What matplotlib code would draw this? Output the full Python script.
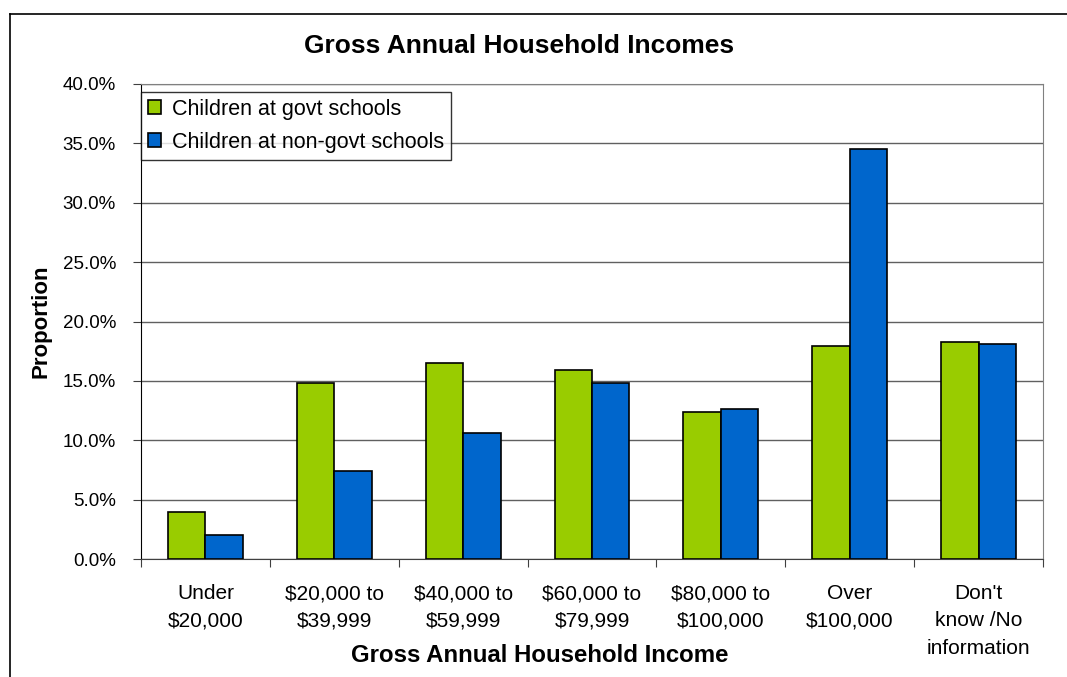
import matplotlib
matplotlib.use("Agg")
import matplotlib.pyplot as plt
from matplotlib.lines import Line2D
from matplotlib.patches import Patch
import numpy as np

plt.rcParams['font.family'] = ['Liberation Sans', 'DejaVu Sans']

categories = ["Under\n$20,000", "$20,000 to\n$39,999", "$40,000 to\n$59,999",
              "$60,000 to\n$79,999", "$80,000 to\n$100,000", "Over\n$100,000",
              "Don't\nknow /No\ninformation"]
govt = [4.0, 14.8, 16.5, 15.9, 12.4, 17.9, 18.3]
non_govt = [2.0, 7.4, 10.6, 14.8, 12.6, 34.5, 18.1]
series_names = ["Children at govt schools", "Children at non-govt schools"]
yticks = [0, 5, 10, 15, 20, 25, 30, 35, 40]

green = "#99CC00"
blue = "#0066CC"

W, H = 1067, 677
fig = plt.figure(figsize=(W / 100, H / 100), dpi=100)
ax = fig.add_axes([141 / W, 1 - 559 / H, (1043 - 141) / W, (559 - 84) / H])

x = np.arange(len(categories))
w = 0.29
ax.bar(x - w / 2, govt, w, color=green, edgecolor="black", linewidth=1.2, zorder=3)
ax.bar(x + w / 2, non_govt, w, color=blue, edgecolor="black", linewidth=1.2, zorder=3)

ax.set_xlim(-0.5, len(categories) - 0.5)
ax.set_ylim(0, 40)
ax.set_yticks(yticks)
ax.set_yticklabels([f"{v:.1f}%" for v in yticks], fontsize=13.5)
ax.yaxis.grid(True, color="#606060", linewidth=1, zorder=0)
ax.set_axisbelow(True)

# category ticks sit on the group boundaries, labels in the middle
ax.set_xticks(np.arange(len(categories) + 1) - 0.5)
ax.set_xticklabels([])
ax.set_xticks(x, minor=True)
ax.set_xticklabels(categories, minor=True, fontsize=15, linespacing=1.55, va="top")
ax.tick_params(axis="x", which="minor", length=0, pad=18)
ax.tick_params(axis="x", which="major", length=6, direction="out", color="#404040")
ax.tick_params(axis="y", length=6, direction="out", color="#404040", pad=12)

for side in ["top", "right"]:
    ax.spines[side].set_color("#808080")
ax.spines["bottom"].set_color("#404040")
ax.spines["left"].set_color("black")

fig.text(519 / W, 1 - 46 / H, "Gross Annual Household Incomes", fontsize=19,
         fontweight="bold", ha="center", va="center")
ax.set_ylabel("Proportion", fontsize=16, fontweight="bold")
ax.yaxis.set_label_coords((41 - 141) / (1043 - 141), 0.5)
ax.set_xlabel("Gross Annual Household Income", fontsize=17.3, fontweight="bold")
ax.xaxis.set_label_coords((540 - 141) / (1043 - 141), -(655 - 559) / (559 - 84))
ax.xaxis.label.set_va("center")
ax.yaxis.label.set_va("center")

handles = [Patch(facecolor=green, edgecolor="black", linewidth=1.2),
           Patch(facecolor=blue, edgecolor="black", linewidth=1.2)]
leg = ax.legend(handles, series_names, loc="upper left",
                bbox_to_anchor=(0.0, (559 - 92) / (559 - 84)),
                fontsize=15.5, frameon=True, fancybox=False, edgecolor="black",
                handlelength=0.6, handleheight=0.6, handletextpad=0.5,
                borderaxespad=0, labelspacing=0.55, borderpad=0.32)
leg.get_frame().set_linewidth(1.0)
leg.set_zorder(5)

# chart-area border
fig.add_artist(Line2D([10 / W, 10 / W], [0, 1 - 14 / H], color="black", linewidth=1.2,
                      transform=fig.transFigure))
fig.add_artist(Line2D([10 / W, 1], [1 - 14 / H, 1 - 14 / H], color="black", linewidth=1.2,
                      transform=fig.transFigure))

fig.savefig("out.png", dpi=100)
